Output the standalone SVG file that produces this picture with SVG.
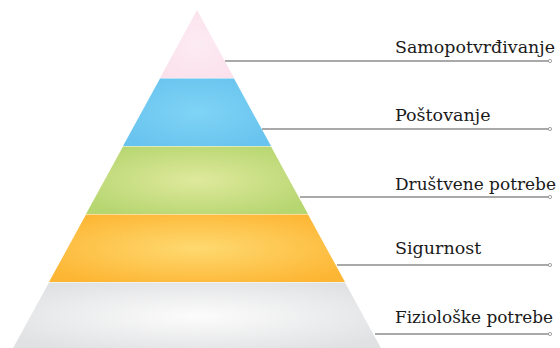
<svg xmlns="http://www.w3.org/2000/svg" width="560" height="348" viewBox="0 0 560 348">
<style>
.lbl{font-family:"DejaVu Serif","Liberation Serif",serif;font-size:17.5px;fill:#1a1a1a}
.conn line{stroke:#8c8c8c;stroke-width:1.3}
.conn circle{fill:#fff;stroke:#8c8c8c;stroke-width:0.8}
</style>
<defs>
<radialGradient id="gPink" cx="0.5" cy="0.5" r="0.6"><stop offset="0" stop-color="#fcebf2"/><stop offset="1" stop-color="#fbe1ec"/></radialGradient>
<radialGradient id="gBlue" cx="0.5" cy="0.5" r="0.6"><stop offset="0" stop-color="#7fd4f6"/><stop offset="1" stop-color="#68c3ee"/></radialGradient>
<radialGradient id="gGreen" cx="0.5" cy="0.5" r="0.6"><stop offset="0" stop-color="#dfe99c"/><stop offset="1" stop-color="#b6d670"/></radialGradient>
<radialGradient id="gOrange" cx="0.5" cy="0.5" r="0.6"><stop offset="0" stop-color="#fed970"/><stop offset="1" stop-color="#fdb634"/></radialGradient>
<radialGradient id="gGray" cx="0.5" cy="0.5" r="0.6"><stop offset="0" stop-color="#fcfcfc"/><stop offset="1" stop-color="#e0e1e3"/></radialGradient>
</defs>
<g id="tier-samopotvrdivanje"><polygon points="197,10 234,78 160,78" fill="url(#gPink)"/></g>
<g id="tier-postovanje"><polygon points="160,78.5 234,78.5 271,146 123,146" fill="url(#gBlue)"/></g>
<g id="tier-drustvene"><polygon points="123,146.5 271,146.5 308,214 86,214" fill="url(#gGreen)"/></g>
<g id="tier-sigurnost"><polygon points="86,214.5 308,214.5 345,282 49,282" fill="url(#gOrange)"/></g>
<g id="tier-fizioloske"><polygon points="49,282.5 345,282.5 382,350 12,350" fill="url(#gGray)"/></g>
<g class="conn" id="connectors">
<line x1="225" y1="61" x2="549" y2="61"/><circle cx="550" cy="61" r="1.6"/>
<line x1="262" y1="129" x2="549" y2="129"/><circle cx="550" cy="129" r="1.6"/>
<line x1="300" y1="197" x2="549" y2="197"/><circle cx="550" cy="197" r="1.6"/>
<line x1="337" y1="265" x2="549" y2="265"/><circle cx="550" cy="265" r="1.6"/>
<line x1="375" y1="334" x2="549" y2="334"/><circle cx="550" cy="334" r="1.6"/>
</g>
<g id="labels">
<text class="lbl" x="395" y="53" textLength="160" lengthAdjust="spacingAndGlyphs">Samopotvrđivanje</text>
<text class="lbl" x="395" y="121">Poštovanje</text>
<text class="lbl" x="395" y="190" textLength="161" lengthAdjust="spacingAndGlyphs">Društvene potrebe</text>
<text class="lbl" x="395" y="254">Sigurnost</text>
<text class="lbl" x="395" y="323" textLength="158" lengthAdjust="spacingAndGlyphs">Fiziološke potrebe</text>
</g>
</svg>
